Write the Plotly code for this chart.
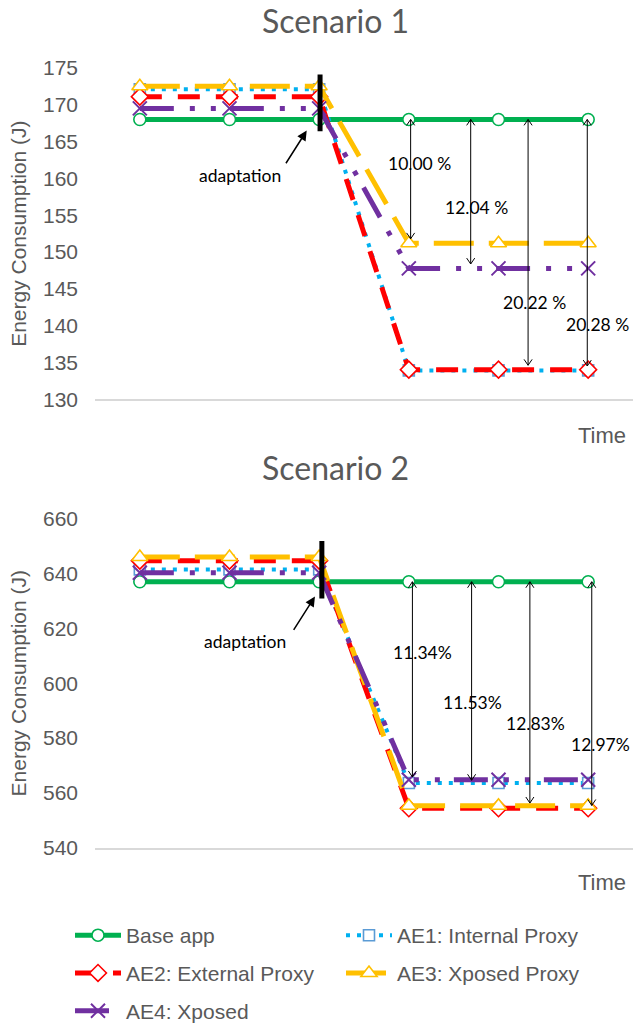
import plotly.graph_objects as go

# ---------------- data ----------------
time_points = [1, 2, 3, 4, 5, 6]
series_names = ["Base app", "AE1: Internal Proxy", "AE2: External Proxy",
                "AE3: Xposed Proxy", "AE4: Xposed"]

s1_base = [168.0, 168.0, 168.0, 168.0, 168.0, 168.0]
s1_ae1 = [172.1, 172.1, 172.1, 133.93, 133.93, 133.93]
s1_ae2 = [171.1, 171.1, 171.1, 134.03, 134.03, 134.03]
s1_ae3 = [172.5, 172.5, 172.5, 151.2, 151.2, 151.2]
s1_ae4 = [169.5, 169.5, 169.5, 147.78, 147.78, 147.78]

s2_base = [637.0, 637.0, 637.0, 637.0, 637.0, 637.0]
s2_ae1 = [641.5, 641.5, 641.5, 563.6, 563.6, 563.6]
s2_ae2 = [644.7, 644.7, 644.7, 554.4, 554.4, 554.4]
s2_ae3 = [646.0, 646.0, 646.0, 555.3, 555.3, 555.3]
s2_ae4 = [640.3, 640.3, 640.3, 564.8, 564.8, 564.8]

s1_saving_labels = ["10.00 %", "12.04 %", "20.22 %", "20.28 %"]
s1_saving_targets = ["AE3", "AE4", "AE2", "AE1"]
s2_saving_labels = ["11.34%", "11.53%", "12.83%", "12.97%"]
s2_saving_targets = ["AE4", "AE1", "AE3", "AE2"]

s1_yticks = [130, 135, 140, 145, 150, 155, 160, 165, 170, 175]
s2_yticks = [540, 560, 580, 600, 620, 640, 660]

# ---------------- geometry ----------------
W, H = 633, 1032
ML = 95


def py(p):
    """pixel row -> paper y"""
    return 1 - p / H


def px(p):
    """pixel column -> paper x"""
    return (p - ML) / (W - ML)


# ---------------- styles ----------------
GREY = "#595959"
TICK_FONT = dict(family="Liberation Sans, Arial, sans-serif", size=21, color=GREY)
NOTE_FONT = dict(family="Lato, Carlito, sans-serif", size=17.5, color="black")

styles = {
    "Base": dict(color="#00B050", dash="solid", width=5, symbol="circle", msize=12, mline="#00B050", legend="legend"),
    "AE1": dict(color="#00B0F0", dash="4px,7px", width=4, symbol="square", msize=11, mline="#5B9BD5", legend="legend2"),
    "AE2": dict(color="#FF0000", dash="22px,16px", width=5, symbol="diamond", msize=13, mline="#FF0000", legend="legend3"),
    "AE3": dict(color="#FFC000", dash="40px,15px", width=5, symbol="triangle-up", msize=14, mline="#FFC000", legend="legend4"),
    "AE4": dict(color="#7030A0", dash="34px,16px,5px,16px,5px,14px", width=5, symbol="x-thin", msize=14, mline="#7030A0", legend="legend5"),
}
keys = ["Base", "AE1", "AE2", "AE3", "AE4"]

scen = [
    dict(vals={"Base": s1_base, "AE1": s1_ae1, "AE2": s1_ae2, "AE3": s1_ae3, "AE4": s1_ae4},
         xa="x", ya="y", labels=s1_saving_labels, targets=s1_saving_targets,
         arrow_x=[4.02, 4.69, 5.33, 5.99], gap=0.6, dy=0.8,
         label_pos=[(4.124, 161.99), (4.76, 156.04), (5.407, 143.2), (6.106, 140.23)],
         bar=(3.01, 166.4, 174.1), adapt_head=(2.861, 166.49), adapt_tail=(2.619, 161.85),
         adapt_text=(2.117, 160.36)),
    dict(vals={"Base": s2_base, "AE1": s2_ae1, "AE2": s2_ae2, "AE3": s2_ae3, "AE4": s2_ae4},
         xa="x2", ya="y2", labels=s2_saving_labels, targets=s2_saving_targets,
         arrow_x=[4.04, 4.70, 5.35, 6.04], gap=1.0, dy=2.2,
         label_pos=[(4.154, 611.1), (4.715, 592.9), (5.418, 585.2), (6.132, 577.6)],
         bar=(3.03, 630.9, 651.9), adapt_head=(2.953, 631.6), adapt_tail=(2.705, 618.9),
         adapt_text=(2.173, 615.05)),
]

fig = go.Figure()

for si, sc in enumerate(scen):
    for k, name in zip(keys, series_names):
        st = styles[k]
        mk = dict(symbol=st["symbol"], size=st["msize"],
                  color="white" if st["symbol"] != "x-thin" else st["mline"],
                  line=dict(color=st["mline"], width=1.6 if st["symbol"] != "x-thin" else 2))
        fig.add_trace(go.Scatter(
            x=time_points, y=sc["vals"][k], name=name, mode="lines+markers",
            line=dict(color=st["color"], dash=st["dash"], width=st["width"]),
            marker=mk, xaxis=sc["xa"], yaxis=sc["ya"],
            showlegend=(si == 0), legend=st["legend"], hoverinfo="skip"))

    # double-headed percentage arrows (base -> adapted series)
    ax_x, ax_y = [], []
    dx = 0.045
    dy = sc["dy"]
    base_after = sc["vals"]["Base"][3]
    for xpos, tgt in zip(sc["arrow_x"], sc["targets"]):
        top = base_after
        bot = sc["vals"][tgt][3] + sc["gap"]
        ax_x += [xpos, xpos, None, xpos - dx, xpos, xpos + dx, None, xpos - dx, xpos, xpos + dx, None]
        ax_y += [top, bot, None, top - dy, top, top - dy, None, bot + dy, bot, bot + dy, None]
    fig.add_trace(go.Scatter(x=ax_x, y=ax_y, mode="lines", line=dict(color="black", width=1),
                             xaxis=sc["xa"], yaxis=sc["ya"], showlegend=False, hoverinfo="skip"))

    for (lx, ly), txt in zip(sc["label_pos"], sc["labels"]):
        fig.add_annotation(x=lx, y=ly, xref=sc["xa"], yref=sc["ya"], text=txt, showarrow=False,
                           font=NOTE_FONT, xanchor="center", yanchor="middle")

    # adaptation marker
    bx, by0, by1 = sc["bar"]
    fig.add_shape(type="line", x0=bx, x1=bx, y0=by0, y1=by1, xref=sc["xa"], yref=sc["ya"],
                  line=dict(color="black", width=5))
    fig.add_annotation(x=sc["adapt_head"][0], y=sc["adapt_head"][1],
                       ax=sc["adapt_tail"][0], ay=sc["adapt_tail"][1],
                       xref=sc["xa"], yref=sc["ya"], axref=sc["xa"], ayref=sc["ya"],
                       text="", showarrow=True, arrowhead=2, arrowsize=1.3, arrowwidth=1.5,
                       arrowcolor="black")
    fig.add_annotation(x=sc["adapt_text"][0], y=sc["adapt_text"][1], xref=sc["xa"], yref=sc["ya"],
                       text="adaptation", showarrow=False, font=NOTE_FONT)

# titles and "Time" labels
TITLE_FONT = dict(family="Lato, Carlito, sans-serif", size=32, color=GREY)
for ty, txt in [(21, "Scenario 1"), (470, "Scenario 2")]:
    fig.add_annotation(x=px(335), y=py(ty), xref="paper", yref="paper", text=txt, showarrow=False,
                       font=TITLE_FONT, xanchor="center", yanchor="middle")
for ty in [438, 888]:
    fig.add_annotation(x=px(602), y=py(ty), xref="paper", yref="paper", text="Time", showarrow=False,
                       font=dict(family="Liberation Sans, Arial, sans-serif", size=22, color=GREY),
                       xanchor="center", yanchor="middle")

xa_common = dict(range=[0.5, 6.5], showticklabels=False, showgrid=False, zeroline=False,
                 showline=True, linecolor="#D9D9D9", linewidth=2, ticks="", automargin=False,
                 fixedrange=True)
ya_common = dict(showgrid=False, zeroline=False, showline=False, ticks="", tickfont=TICK_FONT,
                 ticklabelstandoff=16, automargin=False,
                 title=dict(text="Energy Consumption (J)", font=TICK_FONT, standoff=10))

fig.update_layout(
    template="none",
    width=W, height=H,
    margin=dict(l=ML, r=0, t=0, b=0),
    paper_bgcolor="white", plot_bgcolor="white",
    xaxis=dict(domain=[0, 1], anchor="y", **xa_common),
    xaxis2=dict(domain=[0, 1], anchor="y2", **xa_common),
    yaxis=dict(domain=[py(401.7), py(68.3)], anchor="x", range=[130, 175], tickvals=s1_yticks, **ya_common),
    yaxis2=dict(domain=[py(852.7), py(521.7)], anchor="x2", range=[540, 660], tickvals=s2_yticks, **ya_common),
)

LEG = dict(orientation="h", xanchor="left", yanchor="middle",
           font=dict(family="Liberation Sans, Arial, sans-serif", size=21, color=GREY),
           itemwidth=46, bgcolor="rgba(0,0,0,0)", borderwidth=0)
col1, col2 = px(70), px(341)
row1, row2, row3 = py(941), py(979), py(1017)
fig.update_layout(legend=dict(x=col1, y=row1, **LEG),
                  legend2=dict(x=col2, y=row1, **LEG),
                  legend3=dict(x=col1, y=row2, **LEG),
                  legend4=dict(x=col2, y=row2, **LEG),
                  legend5=dict(x=col1, y=row3, **LEG))

fig.write_html("out.html")
